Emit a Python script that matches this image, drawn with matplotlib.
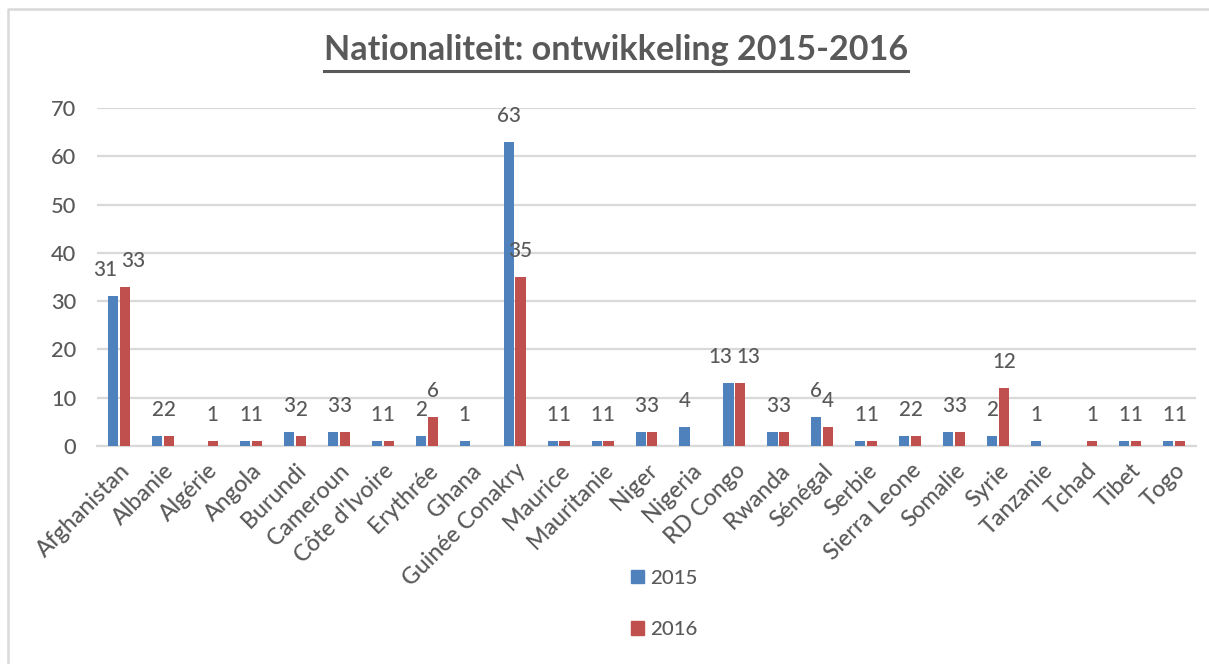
import matplotlib
matplotlib.use("Agg")
import matplotlib.pyplot as plt
from matplotlib.lines import Line2D
from matplotlib.patches import Patch
import numpy as np

categories = ["Afghanistan", "Albanie", "Algérie", "Angola", "Burundi", "Cameroun",
              "Côte d'Ivoire", "Erythrée", "Ghana", "Guinée Conakry", "Maurice",
              "Mauritanie", "Niger", "Nigeria", "RD Congo", "Rwanda", "Sénégal",
              "Serbie", "Sierra Leone", "Somalie", "Syrie", "Tanzanie", "Tchad",
              "Tibet", "Togo"]
values_2015 = [31, 2, 0, 1, 3, 3, 1, 2, 1, 63, 1, 1, 3, 4, 13, 3, 6, 1, 2, 3, 2, 1, 0, 1, 1]
values_2016 = [33, 2, 1, 1, 2, 3, 1, 6, 0, 35, 1, 1, 3, 0, 13, 3, 4, 1, 2, 3, 12, 0, 1, 1, 1]
series_names = ["2015", "2016"]
y_ticks = [0, 10, 20, 30, 40, 50, 60, 70]
title = "Nationaliteit: ontwikkeling 2015-2016"

W, H, DPI = 1209, 664, 100
BLUE, RED = "#4F81BD", "#C0504D"
TXT, GRID = "#595959", "#D9D9D9"
FONT = "Lato"
WT = "medium"

fig = plt.figure(figsize=(W / DPI, H / DPI), dpi=DPI)
renderer = fig.canvas.get_renderer()


def fit_size(text, target_px, weight=WT):
    t = fig.text(0, 0, text, fontsize=10, family=FONT, weight=weight)
    w = t.get_window_extent(renderer).width
    t.remove()
    return 10 * target_px / w


fs_tick = fit_size("Afghanistan", 122)
fs_lab = fit_size("63", 24)
fs_y = fit_size("70", 25)
fs_leg = fit_size("2015", 47)
fs_title = fit_size(title, 584, "bold")

x0, x1 = 97, 1196
ytop, ybot = 108, 446
ax = fig.add_axes([x0 / W, 1 - ybot / H, (x1 - x0) / W, (ybot - ytop) / H])
x = np.arange(len(categories))
bw, off = 0.23, 0.135
ax.bar(x - off, values_2015, width=bw, color=BLUE, zorder=3, label=series_names[0])
ax.bar(x + off, values_2016, width=bw, color=RED, zorder=3, label=series_names[1])
ax.set_xlim(-0.5, len(categories) - 0.5)
ax.set_ylim(0, 70)
ax.set_yticks(y_ticks)
ax.set_yticklabels([str(v) for v in y_ticks], fontsize=fs_y, color=TXT, family=FONT,
                   weight=WT)
ax.yaxis.grid(True, color=GRID, linewidth=1.6, zorder=0)
ax.set_axisbelow(True)
for s in ["top", "right", "left"]:
    ax.spines[s].set_visible(False)
ax.spines["bottom"].set_color(GRID)
ax.spines["bottom"].set_linewidth(1.6)
ax.tick_params(axis="both", length=0)
ax.tick_params(axis="y", pad=15)
ax.set_xticks(x)
ax.set_xticklabels(categories, rotation=45, ha="right", va="top",
                   rotation_mode="anchor", fontsize=fs_tick, color=TXT, family=FONT,
                   weight=WT)
ax.tick_params(axis="x", pad=10)

# data labels
for i in range(len(categories)):
    a, b = values_2015[i], values_2016[i]
    shift = 0
    if a and b and abs(a - b) < 4 and max(len(str(a)), len(str(b))) >= 2:
        shift = 8
    if a:
        ax.annotate(str(a), (x[i] - off, a), xytext=(-shift, 26), textcoords="offset pixels",
                    ha="center", va="center", fontsize=fs_lab, color=TXT, family=FONT,
                    weight=WT)
    if b:
        ax.annotate(str(b), (x[i] + off, b), xytext=(shift, 26), textcoords="offset pixels",
                    ha="center", va="center", fontsize=fs_lab, color=TXT, family=FONT,
                    weight=WT)

# legend
handles = [Patch(color=BLUE, label=series_names[0]), Patch(color=RED, label=series_names[1])]
leg = fig.legend(handles=handles, loc="center", bbox_to_anchor=(664 / W, 1 - 604 / H),
                 frameon=False, prop={"family": FONT, "size": fs_leg, "weight": WT},
                 handlelength=0.65, handleheight=0.65, handletextpad=0.3,
                 labelspacing=1.7)
for t in leg.get_texts():
    t.set_color(TXT)

# title with underline
tt = fig.text(616 / W, 1 - 50 / H, title, ha="center", va="center", fontsize=fs_title,
              weight="bold", color=TXT, family=FONT)
bb = tt.get_window_extent(renderer)
uy = 1 - 71 / H
fig.add_artist(Line2D([bb.x0 / W, bb.x1 / W], [uy, uy], color=TXT, linewidth=2.2,
                      transform=fig.transFigure))

# chart frame (top and left edges visible)
fig.add_artist(Line2D([8 / W, 8 / W, 1.0], [0, 1 - 9 / H, 1 - 9 / H], color=GRID,
                      linewidth=1.8, transform=fig.transFigure))

fig.savefig("out.png", dpi=DPI)
